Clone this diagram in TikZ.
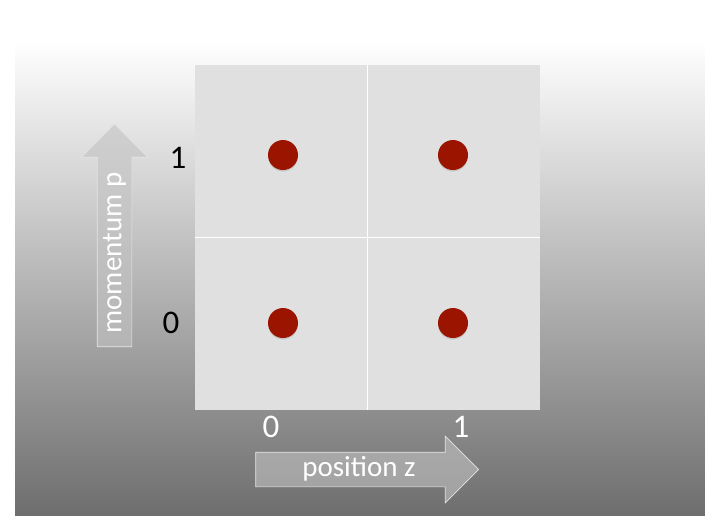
\documentclass[tikz,border=0pt]{standalone}
\usepackage{fontspec}
\setmainfont{Carlito}
\usetikzlibrary{shapes.arrows, positioning}

\definecolor{dotred}{HTML}{9A1400}
\definecolor{cellgray}{HTML}{E0E0E0}
\definecolor{bgdark}{HTML}{6E6E6E}
\definecolor{arrowgray}{HTML}{C2C2C2}

\begin{document}
\begin{tikzpicture}[x=1pt, y=-1pt,
      cell/.style={draw=none, fill=cellgray, minimum size=345pt, inner sep=0pt},
      state/.style={circle, fill=dotred, minimum size=30pt, inner sep=0pt},
      dotshadow/.style={circle, fill=black, opacity=0.12, minimum size=30pt, inner sep=0pt},
      axarrow/.style={single arrow, draw=white!80!gray, line width=0.7pt,
                      fill=arrowgray, fill opacity=0.6,
                      minimum height=223pt, minimum width=0pt,
                      single arrow head extend=16pt, single arrow tip angle=90,
                      inner xsep=0pt, inner ysep=17pt},
      axlabel/.style={text=white, font=\fontsize{29}{29}\selectfont},
      tick/.style={font=\fontsize{33}{33}\selectfont}
    ]
    % background
    \useasboundingbox (0,0) rectangle (705,515);
    \fill[white] (0,0) rectangle (705,515);
    \shade[top color=white, bottom color=bgdark] (15,40) rectangle (705,515);
    \fill[white] (15,0) rectangle (705,40);

    % phase space cells
    \node[cell] (grid) at (367.5,237.5) {};
    \draw[white, line width=0.8pt] (grid.north) -- (grid.south);
    \draw[white, line width=0.8pt] (grid.west) -- (grid.east);

    % states
    \foreach \z/\x in {0/283, 1/453} {
      \foreach \p/\y in {0/323, 1/155} {
        \node[dotshadow] at (\x,\y+1.5) {};
        \node[state] (s\z\p) at (\x,\y) {};
      }
    }

    % axes
    \node[axarrow, rotate=90] (parrow) at (114.5,244) {};
    \node[axlabel, rotate=90] (plabel) at (114.5,253) {momentum p};
    \node[axarrow] (zarrow) at (358.5,469.5) {};
    \node[axlabel] (zlabel) at (359,469) {position z};

    \node[tick] (p1) at (178,158) {1};
    \node[tick] (p0) at (171,323) {0};
    \node[tick, text=white] (z0) at (271,427) {0};
    \node[tick, text=white] (z1) at (461,427) {1};
  \end{tikzpicture}
\end{document}
